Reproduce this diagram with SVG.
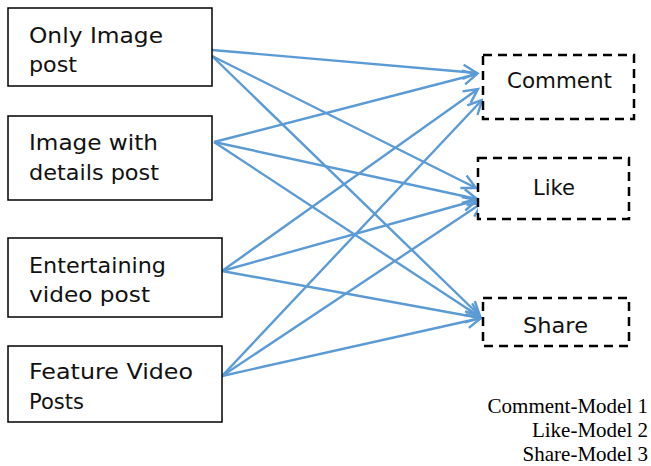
<svg xmlns="http://www.w3.org/2000/svg" width="651" height="466" viewBox="0 0 651 466">
<style>
.src rect{fill:#fff;stroke:#000;stroke-width:1.5}
.tgt rect{fill:#fff;stroke:#000;stroke-width:2.5;stroke-dasharray:9 6}
.t{font-family:"DejaVu Sans","Liberation Sans",sans-serif;font-size:21px;fill:#111}
.leg{font-family:"Liberation Serif",serif;font-size:21px;fill:#000;text-anchor:end}
#connectors line{stroke:#5B9BD5;stroke-width:2.4;marker-end:url(#arr)}
</style>
<defs>
<marker id="arr" markerUnits="userSpaceOnUse" markerWidth="18" markerHeight="18" refX="15" refY="8" orient="auto">
<path d="M1,1 L15,8 L1,15" fill="none" stroke="#5B9BD5" stroke-width="2.4"/>
</marker>
</defs>
<rect width="651" height="466" fill="#fff"/>
<g id="connectors">
<line x1="212" y1="50" x2="477" y2="73"/>
<line x1="212" y1="56" x2="476" y2="188"/>
<line x1="212" y1="56" x2="480" y2="316"/>
<line x1="214" y1="142" x2="477" y2="74"/>
<line x1="214" y1="142" x2="477" y2="199"/>
<line x1="214" y1="142" x2="480" y2="317"/>
<line x1="222" y1="271" x2="478" y2="89"/>
<line x1="222" y1="271" x2="477" y2="200"/>
<line x1="222" y1="271" x2="480" y2="318"/>
<line x1="222" y1="376" x2="482" y2="100"/>
<line x1="222" y1="376" x2="482" y2="203"/>
<line x1="222" y1="376" x2="481" y2="318"/>
</g>
<g id="only-image" class="src"><rect x="8" y="8" width="204" height="78"/><text class="t" x="29" y="43" textLength="134" lengthAdjust="spacingAndGlyphs">Only Image</text><text class="t" x="29" y="72" textLength="48" lengthAdjust="spacingAndGlyphs">post</text></g>
<g id="image-details" class="src"><rect x="8" y="116" width="204" height="84"/><text class="t" x="29" y="150" textLength="129" lengthAdjust="spacingAndGlyphs">Image with</text><text class="t" x="29" y="180" textLength="130" lengthAdjust="spacingAndGlyphs">details post</text></g>
<g id="entertaining" class="src"><rect x="8" y="238" width="214" height="79"/><text class="t" x="29" y="273" textLength="137" lengthAdjust="spacingAndGlyphs">Entertaining</text><text class="t" x="29" y="302" textLength="121" lengthAdjust="spacingAndGlyphs">video post</text></g>
<g id="feature" class="src"><rect x="8" y="346" width="214" height="76"/><text class="t" x="29" y="379" textLength="164" lengthAdjust="spacingAndGlyphs">Feature Video</text><text class="t" x="29" y="409" textLength="55" lengthAdjust="spacingAndGlyphs">Posts</text></g>
<g id="comment" class="tgt"><rect x="483" y="55" width="151" height="64"/><text class="t" x="507" y="88" textLength="105" lengthAdjust="spacingAndGlyphs">Comment</text></g>
<g id="like" class="tgt"><rect x="478" y="158" width="151" height="61"/><text class="t" x="533" y="195" textLength="42" lengthAdjust="spacingAndGlyphs">Like</text></g>
<g id="share" class="tgt"><rect x="483" y="298" width="146" height="48"/><text class="t" x="523" y="333" textLength="65" lengthAdjust="spacingAndGlyphs">Share</text></g>
<g id="legend">
<text class="leg" x="648" y="413">Comment-Model 1</text>
<text class="leg" x="648" y="437">Like-Model 2</text>
<text class="leg" x="648" y="461">Share-Model 3</text>
</g>
</svg>
